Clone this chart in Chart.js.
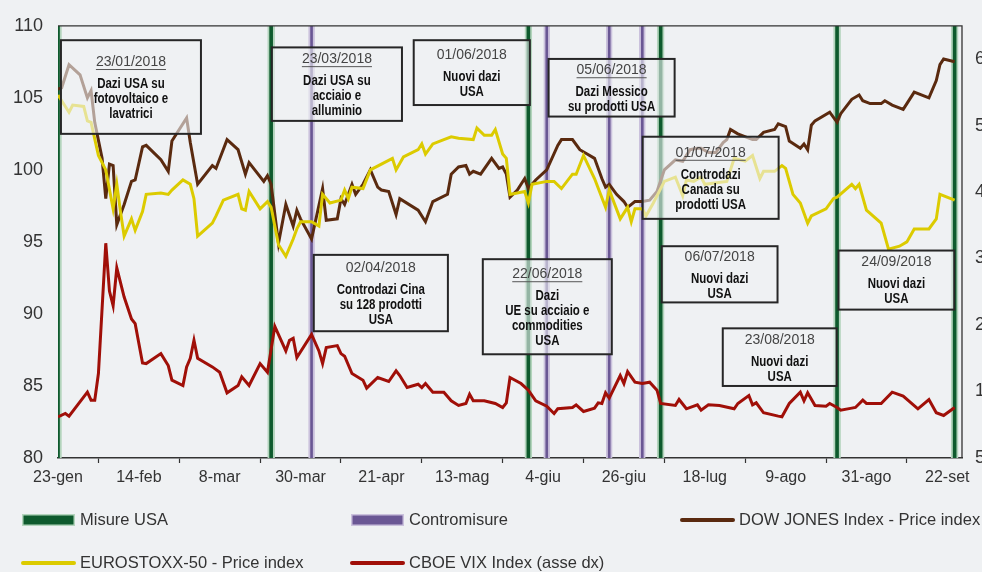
<!DOCTYPE html>
<html lang="it">
<head>
<meta charset="utf-8">
<title>Dazi e mercati 2018</title>
<script src="https://cdn.jsdelivr.net/npm/chart.js@4.4.1/dist/chart.umd.min.js"></script>
<style>
  html, body { margin: 0; padding: 0; background: #eff1f3; }
  canvas { display: block; }
</style>
</head>
<body>
<canvas id="daziChart" width="982" height="572"></canvas>
<script>
// giorni dal 23/01/2018 e valori
const giorniDow = [0,1,3,6,8,9,10,12,13,14,15,16,18,20,21,23,24,28,30,31,35,36,38,42,43,46,49,51,52,56,57,58,60,62,64,65,66,69,72,73,76,77,78,80,81,83,85,87,88,90,92,93,98,100,102,106,107,109,111,112,113,115,118,120,121,122,123,125,127,128,130,133,136,137,140,142,144,146,148,149,150,152,154,155,157,159,161,163,165,168,170,172,174,175,177,179,181,182,183,185,189,190,192,195,196,198,199,202,203,204,205,206,210,212,213,216,218,219,221,224,225,227,230,231,233,237,239,240,241,244];
const dowJones = [105.6,105.7,107.3,106.6,105.0,105.5,103.3,100.8,98.0,100.4,100.3,96.2,97.6,99.2,99.3,101.6,101.7,100.7,99.9,102.0,103.6,101.9,99.0,100.3,100.1,102.1,101.4,99.7,100.5,99.2,99.6,99.0,94.9,97.6,96.1,97.2,96.6,95.2,98.7,96.5,96.6,98.0,97.6,99.0,98.3,99.0,100.0,98.8,98.6,98.5,96.9,98.0,97.2,96.4,97.8,98.3,99.7,100.2,100.3,99.7,99.9,99.7,100.8,100.1,100.2,99.7,98.1,98.6,99.4,98.7,99.3,100.0,101.7,102.1,102.1,101.4,101.1,100.8,99.4,98.8,99.0,98.3,97.8,97.4,97.8,97.8,97.9,98.5,100.0,100.7,100.6,101.4,101.5,101.5,101.2,101.2,101.9,102.1,102.8,102.5,102.1,102.1,102.6,102.8,103.2,103.0,102.0,101.5,101.8,101.4,103.1,103.4,104.0,103.3,103.9,104.9,105.2,104.8,104.6,104.6,104.8,104.5,104.2,104.6,105.4,105.0,106.2,107.3,107.7,107.5];

const giorniEuro = [0,3,4,7,8,9,11,13,15,16,17,18,20,21,23,24,28,30,31,34,36,37,38,42,43,45,49,50,51,52,55,57,58,60,62,64,65,66,69,71,72,74,77,78,79,80,83,85,88,91,92,94,98,99,100,102,105,107,109,113,114,116,118,119,121,122,123,127,128,129,133,135,137,140,141,143,146,149,150,153,155,156,157,159,160,162,164,165,168,170,171,173,175,176,182,184,187,189,191,192,195,197,198,200,202,204,205,209,211,212,216,217,218,220,224,226,229,231,233,237,239,240,244];
const euroStoxx = [105.2,104.0,104.5,104.4,103.4,103.3,101.0,100.0,97.3,99.0,97.1,95.4,96.6,95.8,97.1,98.3,98.4,98.3,98.6,99.3,99.0,98.0,95.4,96.3,96.8,97.9,98.3,97.3,97.2,98.5,97.3,97.8,97.4,94.8,94.0,95.2,95.9,96.4,96.4,96.1,98.3,97.7,97.9,98.6,98.0,98.8,98.7,100.0,100.4,100.8,100.0,100.9,101.4,101.8,101.1,101.8,102.1,102.3,102.2,102.1,102.9,102.4,102.4,102.8,101.1,100.8,98.3,98.5,97.7,99.0,99.2,99.2,98.7,99.7,99.7,101.0,99.4,97.4,98.6,96.6,97.4,96.4,97.3,97.3,96.8,97.7,98.7,99.2,99.5,98.2,99.3,99.2,99.5,99.0,99.2,100.8,100.6,101.0,99.4,99.9,99.9,100.3,100.1,98.3,97.7,96.3,96.8,97.3,98.0,98.1,99.0,98.7,99.0,97.2,96.3,94.5,94.7,95.0,95.9,95.9,96.6,98.3,97.9];

const giorniVix = [0,2,3,8,9,10,11,13,14,15,16,18,20,21,23,24,28,30,31,34,35,36,37,38,42,44,46,49,50,52,55,57,59,62,63,64,65,69,71,72,73,76,77,78,80,83,84,87,90,92,93,95,98,99,100,102,105,107,109,111,112,113,116,119,121,122,123,126,128,130,133,135,136,140,141,143,146,147,148,149,150,153,154,155,157,159,161,163,164,168,169,171,174,175,177,180,184,185,188,189,190,192,196,197,199,202,203,204,206,209,210,212,213,216,217,219,220,224,227,230,234,237,239,241,244];
const vix = [11.2,11.7,11.3,14.9,13.7,13.7,17.7,37.3,30.1,27.9,33.6,29.2,25.9,25.2,19.3,19.2,20.7,18.9,16.7,15.9,18.7,20.0,22.7,20.0,18.7,17.9,14.8,15.9,17.2,15.9,19.2,17.9,24.8,21.1,22.7,23.0,20.1,23.6,21.1,19.2,21.6,21.9,20.7,20.3,17.7,16.7,15.5,17.1,16.5,18.1,17.4,15.6,16.1,15.6,16.2,14.9,14.9,13.6,12.9,13.2,14.6,13.6,13.6,13.2,12.6,13.3,17.1,16.2,15.2,13.6,12.8,11.7,12.4,12.6,13.0,12.0,12.5,13.3,13.2,14.8,14.0,17.4,16.2,18.0,16.4,16.2,16.4,15.2,13.2,12.9,13.8,12.4,13.0,12.2,13.0,12.9,12.4,13.2,14.4,13.0,13.3,11.8,11.3,11.2,13.2,14.9,13.6,14.8,12.9,12.8,13.2,12.6,12.2,12.5,12.6,13.7,13.2,13.2,14.9,14.3,12.4,13.8,11.8,11.4,12.6];

// eventi
const misureUsaGiorni = [0, 58, 128, 164, 212, 244];
const contromisureGiorni = [69, 133, 150, 159];

// assi
const tickGiorni = [0, 22, 44, 66, 88, 110, 132, 154, 176, 198, 220, 242];
const tickLabels = ['23-gen', '14-feb', '8-mar', '30-mar', '21-apr', '13-mag', '4-giu', '26-giu', '18-lug', '9-ago', '31-ago', '22-set'];
const tickSinistra = [80, 85, 90, 95, 100, 105, 110];
const tickDestra = [5, 15, 25, 35, 45, 55, 65];

// riquadri di testo (coordinate in giorni / asse sx)
const riquadri = [
  { x0: 0.8, x1: 38.9, yTop: 109.0, yBot: 102.5, data: '23/01/2018', sott: true, righe: ['Dazi USA su', 'fotovoltaico e', 'lavatrici'] },
  { x0: 58.2, x1: 93.6, yTop: 108.5, yBot: 103.4, data: '23/03/2018', sott: true, righe: ['Dazi USA su', 'acciaio e', 'alluminio'] },
  { x0: 96.8, x1: 128.4, yTop: 109.0, yBot: 104.5, data: '01/06/2018', sott: false, righe: ['Nuovi dazi', 'USA'] },
  { x0: 133.5, x1: 167.8, yTop: 107.7, yBot: 103.7, data: '05/06/2018', sott: true, righe: ['Dazi Messico', 'su prodotti USA'] },
  { x0: 159.1, x1: 196.1, yTop: 102.3, yBot: 96.6, data: '01/07/2018', sott: true, righe: ['Controdazi', 'Canada su', 'prodotti USA'] },
  { x0: 69.6, x1: 106.1, yTop: 94.1, yBot: 88.8, data: '02/04/2018', sott: false, righe: ['Controdazi Cina', 'su 128 prodotti', 'USA'] },
  { x0: 115.6, x1: 150.7, yTop: 93.8, yBot: 87.2, data: '22/06/2018', sott: true, righe: ['Dazi', 'UE su acciaio e', 'commodities', 'USA'] },
  { x0: 164.3, x1: 195.8, yTop: 94.7, yBot: 90.8, data: '06/07/2018', sott: false, righe: ['Nuovi dazi', 'USA'] },
  { x0: 180.9, x1: 211.9, yTop: 89.0, yBot: 85.0, data: '23/08/2018', sott: false, righe: ['Nuovi dazi', 'USA'] },
  { x0: 212.4, x1: 243.9, yTop: 94.4, yBot: 90.3, data: '24/09/2018', sott: false, righe: ['Nuovi dazi', 'USA'] }
];

const toPoints = (giorni, valori) => giorni.map((g, i) => ({ x: g, y: valori[i] }));
const cimaAsse = tickSinistra[tickSinistra.length - 1];
const FONT = '"Liberation Sans", Arial, sans-serif';

const sfondo = {
  id: 'sfondo',
  beforeDraw(chart) {
    const c = chart.ctx;
    c.save();
    c.fillStyle = '#eff1f3';
    c.fillRect(0, 0, chart.width, chart.height);
    c.restore();
  }
};

const cornice = {
  id: 'cornice',
  afterDatasetsDraw(chart) {
    const { ctx: c, chartArea: a, scales } = chart;
    c.save();
    c.strokeStyle = '#333';
    c.lineWidth = 1.3;
    c.beginPath();
    c.moveTo(a.left, a.top);
    c.lineTo(a.right, a.top);
    c.lineTo(a.right, a.bottom);
    c.stroke();

    // riquadri
    riquadri.forEach(r => {
      const xl = scales.x.getPixelForValue(r.x0);
      const xr = scales.x.getPixelForValue(r.x1);
      const yt = scales.y.getPixelForValue(r.yTop);
      const yb = scales.y.getPixelForValue(r.yBot);
      c.fillStyle = 'rgba(239,241,243,0.6)';
      c.fillRect(xl, yt, xr - xl, yb - yt);
      c.strokeStyle = '#262626';
      c.lineWidth = 2;
      c.strokeRect(xl, yt, xr - xl, yb - yt);

      const cx = (xl + xr) / 2;
      const blocco = 22 + (r.righe.length - 1) * 15;
      let y = (yt + yb) / 2 - blocco / 2 + 1;
      c.textAlign = 'center';
      c.textBaseline = 'middle';
      c.fillStyle = '#444';
      c.font = '14px ' + FONT;
      c.fillText(r.data, cx, y);
      if (r.sott) {
        const w = c.measureText(r.data).width;
        c.strokeStyle = '#555';
        c.lineWidth = 1;
        c.beginPath();
        c.moveTo(cx - w / 2, y + 7.5);
        c.lineTo(cx + w / 2, y + 7.5);
        c.stroke();
      }
      y += 22;
      c.fillStyle = '#111';
      c.font = 'bold 14px ' + FONT;
      r.righe.forEach(t => {
        c.save();
        c.translate(cx, y);
        c.scale(0.82, 1);
        c.fillText(t, 0, 0);
        c.restore();
        y += 15;
      });
    });
    c.restore();
  }
};

const legenda = {
  id: 'legenda',
  afterDraw(chart) {
    const c = chart.ctx;
    const colonne = [22, 351, 681];
    const righe = [520, 563];
    c.save();
    c.font = '16.5px ' + FONT;
    c.textBaseline = 'middle';
    c.textAlign = 'left';
    chart.data.datasets.forEach((ds, i) => {
      const x = colonne[i % 3];
      const y = righe[Math.floor(i / 3)];
      if (ds.type === 'bar') {
        c.fillStyle = ds.borderColor;
        c.fillRect(x, y - 6, 53, 12);
        c.fillStyle = ds.backgroundColor;
        c.fillRect(x + 1.5, y - 4.5, 50, 9);
      } else {
        c.strokeStyle = ds.borderColor;
        c.lineWidth = 4;
        c.lineCap = 'round';
        c.beginPath();
        c.moveTo(x + 1, y);
        c.lineTo(x + 52, y);
        c.stroke();
      }
      c.fillStyle = '#333';
      c.fillText(ds.label, x + 58, y);
    });
    c.restore();
  }
};

const ctx = document.getElementById('daziChart').getContext('2d');

const daziChart = new Chart(ctx, {
  type: 'line',
  data: {
    datasets: [
      {
        label: 'Misure USA',
        type: 'bar',
        data: misureUsaGiorni.map(g => ({ x: g, y: cimaAsse })),
        backgroundColor: '#0e5a2d',
        borderColor: '#b3d4bc',
        borderWidth: { left: 2, right: 2, top: 0, bottom: 0 },
        borderSkipped: false,
        barThickness: 7,
        grouped: false,
        yAxisID: 'y',
        order: 10
      },
      {
        label: 'Contromisure',
        type: 'bar',
        data: contromisureGiorni.map(g => ({ x: g, y: cimaAsse })),
        backgroundColor: '#6a5794',
        borderColor: '#cac1dc',
        borderWidth: { left: 2, right: 2, top: 0, bottom: 0 },
        borderSkipped: false,
        barThickness: 6,
        grouped: false,
        yAxisID: 'y',
        order: 9
      },
      {
        label: 'DOW JONES Index - Price index',
        data: toPoints(giorniDow, dowJones),
        borderColor: '#5a2a0f',
        borderWidth: 3,
        pointRadius: 0,
        tension: 0,
        yAxisID: 'y',
        order: 2
      },
      {
        label: 'EUROSTOXX-50 - Price index',
        data: toPoints(giorniEuro, euroStoxx),
        borderColor: '#dccb00',
        borderWidth: 3,
        pointRadius: 0,
        tension: 0,
        yAxisID: 'y',
        order: 1
      },
      {
        label: 'CBOE VIX Index (asse dx)',
        data: toPoints(giorniVix, vix),
        borderColor: '#a00f08',
        borderWidth: 3,
        pointRadius: 0,
        tension: 0,
        yAxisID: 'y2',
        order: 0
      }
    ]
  },
  options: {
    responsive: false,
    animation: false,
    layout: { padding: { top: 22, left: 0, right: 0, bottom: 0 } },
    plugins: {
      legend: { display: false },
      tooltip: { enabled: false }
    },
    scales: {
      x: {
        type: 'linear',
        min: 0,
        max: 246,
        offset: false,
        afterBuildTicks: s => { s.ticks = tickGiorni.map(v => ({ value: v })); },
        afterFit: s => { s.height = 114; },
        ticks: {
          callback: (v, i) => tickLabels[i],
          font: { family: FONT, size: 16 },
          color: '#333',
          padding: 5,
          maxRotation: 0,
          autoSkip: false
        },
        grid: { drawOnChartArea: false, tickLength: 5, tickColor: '#333', tickWidth: 1.2 },
        border: { color: '#333', width: 1.5 }
      },
      y: {
        position: 'left',
        min: 80,
        max: 110,
        afterBuildTicks: s => { s.ticks = tickSinistra.map(v => ({ value: v })); },
        afterFit: s => { s.width = 58; },
        ticks: { font: { family: FONT, size: 18 }, color: '#333', padding: 15 },
        grid: { display: false, drawTicks: false },
        border: { display: false }
      },
      y2: {
        position: 'right',
        min: 5,
        max: 70,
        afterBuildTicks: s => { s.ticks = tickDestra.map(v => ({ value: v })); },
        afterFit: s => { s.width = 20; },
        ticks: { font: { family: FONT, size: 18 }, color: '#333', padding: 13 },
        grid: { display: false, drawTicks: false },
        border: { display: false }
      }
    }
  },
  plugins: [sfondo, cornice, legenda]
});
</script>
</body>
</html>
